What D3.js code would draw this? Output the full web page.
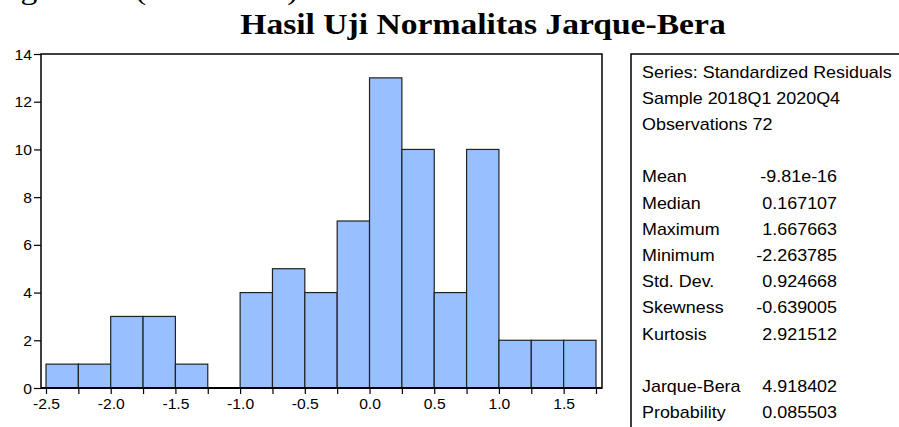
<!DOCTYPE html>
<html>
<head>
<meta charset="utf-8">
<script src="https://cdn.jsdelivr.net/npm/d3@7"></script>
<style>
  html, body { margin: 0; padding: 0; background: #fff; }
  svg { display: block; }
</style>
</head>
<body>
<svg id="chart" width="899" height="427"></svg>
<script>
// ---- data ----
const binStart = [-2.5, -2.25, -2.0, -1.75, -1.5, -1.25, -1.0, -0.75, -0.5, -0.25, 0.0, 0.25, 0.5, 0.75, 1.0, 1.25, 1.5];
const binWidth = 0.25;
const counts   = [1, 1, 3, 3, 1, 0, 4, 5, 4, 7, 13, 10, 4, 10, 2, 2, 2];
const xTickValues = [-2.5, -2.25, -2.0, -1.75, -1.5, -1.25, -1.0, -0.75, -0.5, -0.25, 0.0, 0.25, 0.5, 0.75, 1.0, 1.25, 1.5, 1.75];
const xTickLabels = {"-2.5":"-2.5", "-2":"-2.0", "-1.5":"-1.5", "-1":"-1.0", "-0.5":"-0.5", "0":"0.0", "0.5":"0.5", "1":"1.0", "1.5":"1.5"};
const yTickValues = [0, 2, 4, 6, 8, 10, 12, 14];
const titleText = "Hasil Uji Normalitas Jarque-Bera";
const headerLines = ["Series: Standardized Residuals", "Sample 2018Q1 2020Q4", "Observations 72"];
const statLabels = ["Mean", "Median", "Maximum", "Minimum", "Std. Dev.", "Skewness", "Kurtosis"];
const statValues = ["-9.81e-16", "0.167107", "1.667663", "-2.263785", "0.924668", "-0.639005", "2.921512"];
const testLabels = ["Jarque-Bera", "Probability"];
const testValues = ["4.918402", "0.085503"];

// ---- layout ----
const SX = 1.12; // horizontal stretch of the original picture
const svg = d3.select("#chart");
const x = d3.scaleLinear().domain([-2.5, 1.75]).range([46, 596]);
const y = d3.scaleLinear().domain([0, 14]).range([388, 54]);
const plotL = 41, plotR = 602, plotT = 54, plotB = 388;

function stext(g, px, py, str, opts) {
  return g.append("text")
    .attr("transform", `translate(${px},${py}) scale(${SX},1)`)
    .attr("text-anchor", opts.anchor || "start")
    .attr("font-family", opts.family || "'Liberation Sans', Arial, sans-serif")
    .attr("font-size", opts.size)
    .attr("font-weight", opts.weight || "normal")
    .attr("fill", "#000")
    .text(str);
}

// clipped caption line at the very top (only its lower edge shows)
stext(svg, -30, -1, "Pengolahan (Eviews 10)", {family: "'Liberation Serif', 'Times New Roman', serif", size: 30});

// title
stext(svg, 483, 34, titleText, {family: "'Liberation Serif', 'Times New Roman', serif", size: 30, weight: "bold", anchor: "middle"});

// bars
svg.append("g").selectAll("rect")
  .data(binStart.map((s, i) => ({s, c: counts[i]})).filter(d => d.c > 0))
  .join("rect")
  .attr("x", d => x(d.s))
  .attr("y", d => y(d.c))
  .attr("width", d => x(d.s + binWidth) - x(d.s))
  .attr("height", d => y(0) - y(d.c))
  .attr("fill", "#98BFFF")
  .attr("stroke", "#222")
  .attr("stroke-width", 1.2);

// plot frame
svg.append("rect")
  .attr("x", plotL).attr("y", plotT)
  .attr("width", plotR - plotL).attr("height", plotB - plotT)
  .attr("fill", "none").attr("stroke", "#000").attr("stroke-width", 1.5);

// x axis
const xAxis = svg.append("g").attr("transform", `translate(0,${plotB})`)
  .call(d3.axisBottom(x).tickValues(xTickValues).tickSize(6).tickSizeOuter(0)
    .tickFormat(d => xTickLabels[String(d)] || ""));
xAxis.select(".domain").attr("stroke", "#000").attr("stroke-width", 2)
  .attr("d", `M${plotL},0H${plotR}`);
xAxis.selectAll(".tick line").attr("stroke", "#000").attr("stroke-width", 1.2);
xAxis.selectAll(".tick text").remove();
xAxis.selectAll(".tick").each(function(d) {
  const lab = xTickLabels[String(d)];
  if (lab) stext(d3.select(this), 0, 21, lab, {size: 14, anchor: "middle"});
});

// y axis
const yAxis = svg.append("g").attr("transform", `translate(${plotL},0)`)
  .call(d3.axisLeft(y).tickValues(yTickValues).tickSize(7).tickSizeOuter(0).tickFormat(d3.format("d")));
yAxis.select(".domain").remove();
yAxis.selectAll(".tick line").attr("stroke", "#000").attr("stroke-width", 1.2);
yAxis.selectAll(".tick text").remove();
yAxis.selectAll(".tick").each(function(d) {
  stext(d3.select(this), -9, 5, d3.format("d")(d), {size: 14, anchor: "end"});
});

// stats box
svg.append("rect")
  .attr("x", 631).attr("y", 54).attr("width", 320).attr("height", 420)
  .attr("fill", "none").attr("stroke", "#000").attr("stroke-width", 1.5);

const sb = svg.append("g");
const rowH = 26.2, row0 = 77.5, labX = 642, valX = 837;
headerLines.forEach((t, i) => stext(sb, labX, row0 + i * rowH, t, {size: 16}));
statLabels.forEach((t, i) => {
  stext(sb, labX, row0 + (i + 4) * rowH, t, {size: 16});
  stext(sb, valX, row0 + (i + 4) * rowH, statValues[i], {size: 16, anchor: "end"});
});
testLabels.forEach((t, i) => {
  stext(sb, labX, row0 + (i + 12) * rowH, t, {size: 16});
  stext(sb, valX, row0 + (i + 12) * rowH, testValues[i], {size: 16, anchor: "end"});
});
</script>
</body>
</html>
